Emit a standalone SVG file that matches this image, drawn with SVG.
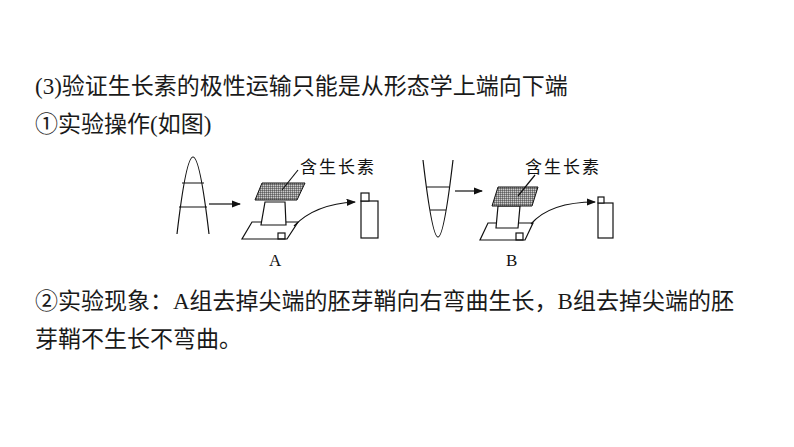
<svg xmlns="http://www.w3.org/2000/svg" width="794" height="447" viewBox="0 0 794 447">
<defs>
<style>
.t{font-family:"Liberation Serif","Noto Sans CJK SC",serif;font-size:23px;fill:#1a1a1a}
.l{font-family:"Liberation Serif","Noto Sans CJK SC",serif;font-size:17px;fill:#111}
.s{fill:none;stroke:#111;stroke-width:1.2}
.w{fill:#fff;stroke:#111;stroke-width:1.2}
</style>
<pattern id="g" width="2" height="2" patternUnits="userSpaceOnUse"><rect width="2" height="2" fill="#ccc"/><path d="M0 0H2M0 0V2" stroke="#222" stroke-width="0.8"/></pattern>
<marker id="a" markerWidth="8" markerHeight="6" refX="7" refY="3" orient="auto"><path d="M0 0L8 3L0 6z" fill="#111"/></marker>
</defs>
<rect width="794" height="447" fill="#fff"/>
<g id="text">
<text class="t" x="35" y="94">(3)验证生长素的极性运输只能是从形态学上端向下端</text>
<text class="t" x="35" y="132">①实验操作(如图)</text>
<text class="t" x="35" y="309">②实验现象：A组去掉尖端的胚芽鞘向右弯曲生长，B组去掉尖端的胚</text>
<text class="t" x="35" y="347">芽鞘不生长不弯曲。</text>
</g>
<g id="groupA">
<path class="s" d="M177 234Q186 157 193 157Q200 157 209 234M182 183H204M179 207H207"/>
<path class="w" d="M252 222H298L287 239H242Z"/>
<rect class="s" x="278" y="233" width="7" height="6"/>
<path class="w" d="M265 202H285L286 225H261Z"/>
<path d="M262 183H305L297 200H255Z" fill="url(#g)" stroke="#111"/>
<line class="s" x1="298" y1="170" x2="282" y2="190"/>
<text class="l" x="300" y="173" letter-spacing="2">含生长素</text>
<rect class="w" x="361" y="201" width="17" height="37"/>
<rect class="w" x="361" y="193" width="8" height="8"/>
<text class="l" x="269" y="266">A</text>
</g>
<g id="groupB">
<path class="s" d="M423 160Q432 237 438 237Q444 237 453 160M427 187H449M430 210H446"/>
<path class="w" d="M488 223H533L525 240H480Z"/>
<rect class="s" x="516" y="233" width="7" height="7"/>
<path class="w" d="M498 206H520L518 228H496Z"/>
<path d="M498 187H538L532 206H492Z" fill="url(#g)" stroke="#111"/>
<line class="s" x1="535" y1="175" x2="518" y2="196"/>
<text class="l" x="525" y="173" letter-spacing="2">含生长素</text>
<rect class="w" x="598" y="203" width="15" height="35"/>
<rect class="w" x="598" y="197" width="6" height="6"/>
<text class="l" x="506" y="266">B</text>
</g>
<g id="connectors">
<line class="s" x1="209" y1="204" x2="240" y2="204" marker-end="url(#a)"/>
<path class="s" d="M294 226Q315 204 355 202" marker-end="url(#a)"/>
<line class="s" x1="455" y1="191" x2="482" y2="191" marker-end="url(#a)"/>
<path class="s" d="M531 224Q550 202 595 202" marker-end="url(#a)"/>
</g>
</svg>
